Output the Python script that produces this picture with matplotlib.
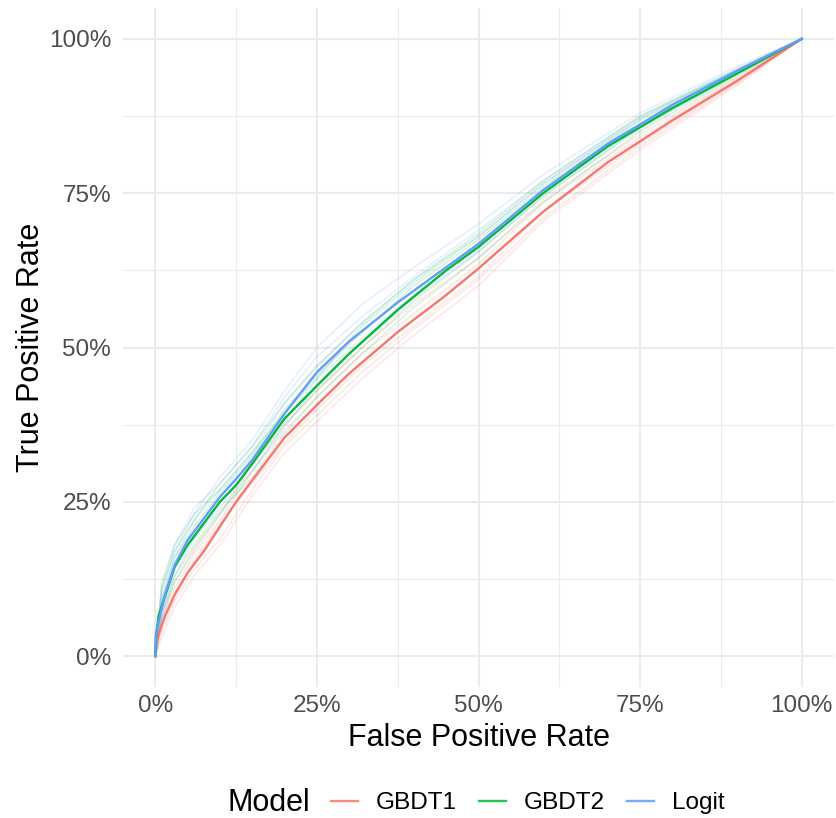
import numpy as np
import matplotlib
matplotlib.use("Agg")
import matplotlib.pyplot as plt
from matplotlib.lines import Line2D
from matplotlib.ticker import FuncFormatter, MultipleLocator

plt.rcParams['font.family'] = ['Liberation Sans', 'DejaVu Sans']

# mean ROC curves
fpr = [0, 0.001, 0.005, 0.015, 0.03, 0.05, 0.075, 0.1, 0.125, 0.15, 0.2, 0.25,
       0.3, 0.375, 0.45, 0.5, 0.6, 0.7, 0.8, 0.9, 1.0]
tpr_gbdt1 = [0, 0.02, 0.035, 0.065, 0.1, 0.135, 0.17, 0.21, 0.25, 0.285, 0.354, 0.407,
             0.458, 0.525, 0.585, 0.628, 0.72, 0.80, 0.868, 0.932, 1.0]
tpr_gbdt2 = [0, 0.03, 0.065, 0.097, 0.145, 0.18, 0.215, 0.25, 0.277, 0.312, 0.385, 0.438,
             0.49, 0.561, 0.625, 0.663, 0.75, 0.826, 0.888, 0.944, 1.0]
tpr_logit = [0, 0.035, 0.055, 0.10, 0.148, 0.188, 0.223, 0.258, 0.287, 0.318, 0.393, 0.46,
             0.51, 0.573, 0.63, 0.668, 0.755, 0.83, 0.893, 0.948, 1.0]

# faint per-resample curves (coarser grid)
fpr_f = [0, 0.01, 0.03, 0.06, 0.1, 0.15, 0.2, 0.25, 0.32, 0.4, 0.5, 0.6, 0.75, 0.9, 1.0]
faint_gbdt1 = [
    [0, 0.07, 0.12, 0.17, 0.23, 0.31, 0.375, 0.43, 0.50, 0.57, 0.645, 0.74, 0.845, 0.937, 1],
    [0, 0.03, 0.08, 0.13, 0.18, 0.26, 0.33, 0.38, 0.45, 0.52, 0.60, 0.705, 0.82, 0.925, 1],
    [0, 0.06, 0.11, 0.165, 0.22, 0.30, 0.365, 0.42, 0.49, 0.555, 0.635, 0.735, 0.84, 0.935, 1],
    [0, 0.04, 0.09, 0.14, 0.19, 0.27, 0.34, 0.39, 0.46, 0.53, 0.61, 0.71, 0.825, 0.928, 1],
    [0, 0.05, 0.095, 0.155, 0.215, 0.28, 0.345, 0.40, 0.47, 0.535, 0.615, 0.72, 0.83, 0.93, 1],
]
faint_gbdt2 = [
    [0, 0.11, 0.17, 0.22, 0.28, 0.34, 0.41, 0.47, 0.54, 0.61, 0.685, 0.77, 0.875, 0.95, 1],
    [0, 0.07, 0.13, 0.18, 0.235, 0.29, 0.36, 0.42, 0.49, 0.565, 0.645, 0.735, 0.85, 0.94, 1],
    [0, 0.09, 0.16, 0.21, 0.265, 0.325, 0.40, 0.455, 0.525, 0.60, 0.675, 0.76, 0.868, 0.948, 1],
    [0, 0.06, 0.12, 0.175, 0.23, 0.30, 0.375, 0.43, 0.50, 0.575, 0.655, 0.745, 0.857, 0.942, 1],
    [0, 0.12, 0.18, 0.23, 0.27, 0.33, 0.395, 0.45, 0.535, 0.605, 0.68, 0.765, 0.872, 0.95, 1],
]
faint_logit = [
    [0, 0.10, 0.17, 0.23, 0.29, 0.35, 0.43, 0.50, 0.57, 0.63, 0.70, 0.78, 0.88, 0.955, 1],
    [0, 0.06, 0.13, 0.19, 0.24, 0.30, 0.37, 0.44, 0.51, 0.58, 0.655, 0.745, 0.855, 0.943, 1],
    [0, 0.09, 0.16, 0.22, 0.27, 0.33, 0.41, 0.47, 0.54, 0.61, 0.68, 0.765, 0.87, 0.95, 1],
    [0, 0.07, 0.14, 0.20, 0.25, 0.31, 0.38, 0.45, 0.515, 0.585, 0.66, 0.75, 0.86, 0.946, 1],
    [0, 0.11, 0.18, 0.24, 0.28, 0.34, 0.42, 0.485, 0.55, 0.615, 0.69, 0.77, 0.875, 0.952, 1],
]

models = ['GBDT1', 'GBDT2', 'Logit']
colors = ['#F8766D', '#00BA38', '#619CFF']
means = [tpr_gbdt1, tpr_gbdt2, tpr_logit]
faints = [faint_gbdt1, faint_gbdt2, faint_logit]

fig = plt.figure(figsize=(8.36, 8.18), dpi=100)
ax = fig.add_axes([123 / 836, 1 - 687 / 818, 711 / 836, 679 / 818])

# faint resample curves first, then the averages on top
for col, fset in zip(colors, faints):
    for f in fset:
        ax.plot(fpr_f, f, color=col, alpha=0.16, lw=1.2)
for col, m in zip(colors, means):
    ax.plot(fpr, m, color=col, lw=1.7)

ax.set_xlim(-0.05, 1.05)
ax.set_ylim(-0.05, 1.05)
pct = FuncFormatter(lambda v, _: f"{v * 100:.0f}%")
for axis in (ax.xaxis, ax.yaxis):
    axis.set_major_locator(MultipleLocator(0.25))
    axis.set_minor_locator(MultipleLocator(0.125))
    axis.set_major_formatter(pct)
ax.grid(which='major', color='#EBEBEB', lw=1.5)
ax.grid(which='minor', color='#EBEBEB', lw=0.8)
ax.set_axisbelow(True)
for s in ax.spines.values():
    s.set_visible(False)
ax.tick_params(which='both', length=0, labelsize=17.5, labelcolor='#4D4D4D')
ax.tick_params(axis='y', pad=8.5)
ax.tick_params(axis='x', pad=6)
ax.set_xlabel('False Positive Rate', fontsize=22, labelpad=4)
ax.set_ylabel('True Positive Rate', fontsize=22, labelpad=2)

fig.text(228 / 836, 1 - 803 / 818, 'Model', fontsize=22, va='center', ha='left')
handles = [Line2D([], [], color=c, lw=1.7, alpha=0.85) for c in colors]
fig.legend(handles, models, loc='center left', bbox_to_anchor=(331 / 836, 1 - 803 / 818),
           ncol=3, frameon=False, fontsize=17.6, handlelength=1.1, handletextpad=0.75,
           columnspacing=0.88, borderpad=0, borderaxespad=0)

fig.savefig('out.png', dpi=100)
